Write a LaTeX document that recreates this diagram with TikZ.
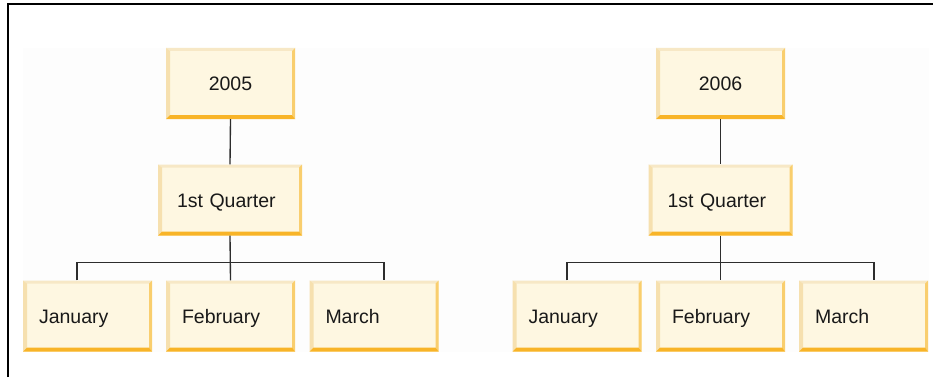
\documentclass[tikz,border=0pt]{standalone}
\usepackage{fontspec}
\setmainfont{Liberation Sans}
\definecolor{boxfill}{RGB}{254,247,225}
\definecolor{bevtop}{RGB}{247,232,198}
\definecolor{bevleft}{RGB}{246,224,175}
\definecolor{bevright}{RGB}{249,206,110}
\definecolor{bevbottom}{RGB}{248,180,40}
\definecolor{linec}{RGB}{45,45,45}
\definecolor{panel}{RGB}{253,253,253}
\begin{document}
\begin{tikzpicture}[x=1pt,y=-1pt,
  bevel/.style={rectangle, inner sep=0pt, fill=boxfill, minimum height=71pt,
    font=\fontsize{19.5}{22}\selectfont, text=black!90,
    text height=17pt, text depth=2pt,
    path picture={
      \coordinate (NW) at (path picture bounding box.north west);
      \coordinate (NE) at (path picture bounding box.north east);
      \coordinate (SW) at (path picture bounding box.south west);
      \coordinate (SE) at (path picture bounding box.south east);
      \fill[bevtop] (NW) -- (NE) -- ([xshift=-3pt,yshift=-3pt]NE) -- ([xshift=4pt,yshift=-3pt]NW) -- cycle;
      \fill[bevleft] (NW) -- ([xshift=4pt,yshift=-3pt]NW) -- ([xshift=4pt,yshift=4pt]SW) -- (SW) -- cycle;
      \fill[bevright] (NE) -- (SE) -- ([xshift=-3pt,yshift=4pt]SE) -- ([xshift=-3pt,yshift=-3pt]NE) -- cycle;
      \fill[bevbottom] (SW) -- (SE) -- ([xshift=-3pt,yshift=4pt]SE) -- ([xshift=4pt,yshift=4pt]SW) -- cycle;
    }},
  topbox/.style={bevel, minimum width=129pt, align=center},
  qbox/.style={bevel, minimum width=144pt, text width=106pt, align=left},
  mbox/.style={bevel, minimum width=129pt, text width=97pt, align=left},
  conn/.style={draw=linec, line width=1.35pt}]
\useasboundingbox (0,0) rectangle (933,377);
\fill[white] (0,0) rectangle (933,377);
\fill[panel] (23,48) rectangle (929,352);
\draw[black, line width=1.3pt] (8,377) -- (8,4) -- (933,4);

% left tree
\node[topbox] (y05) at (230.5,83.5) {2005};
\node[qbox] (q05) at (230,200) {1st Quarter};
\node[mbox] (jan05) at (87.5,316) {January};
\node[mbox] (feb05) at (230.5,316) {February};
\node[mbox] (mar05) at (374,316) {March};
\coordinate (h05) at (230.5,262.5);
\draw[conn] (y05.south) -- (q05.north);
\draw[conn] (q05.south) -- (feb05.north);
\draw[conn] (jan05.north -| 77,0) |- (h05) -| (mar05.north -| 384,0);

% right tree
\node[topbox] (y06) at (720.5,83.5) {2006};
\node[qbox] (q06) at (720.5,200) {1st Quarter};
\node[mbox] (jan06) at (577,316) {January};
\node[mbox] (feb06) at (720.5,316) {February};
\node[mbox] (mar06) at (863.5,316) {March};
\coordinate (h06) at (720.5,262.5);
\draw[conn] (y06.south) -- (q06.north);
\draw[conn] (q06.south) -- (feb06.north);
\draw[conn] (jan06.north -| 567,0) |- (h06) -| (mar06.north -| 874,0);
\end{tikzpicture}
\end{document}
